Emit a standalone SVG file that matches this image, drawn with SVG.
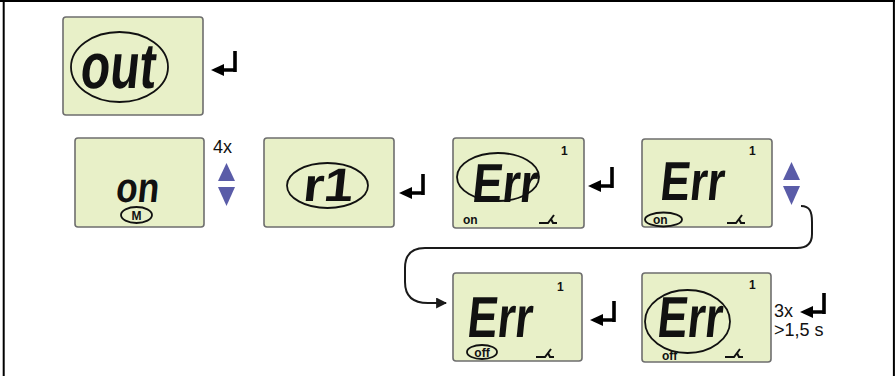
<svg xmlns="http://www.w3.org/2000/svg" xmlns:xlink="http://www.w3.org/1999/xlink" width="895" height="376" viewBox="0 0 895 376">
<style>
.lcd{fill:#e8f0c8;stroke:#6e6e6e;stroke-width:1.6}
.seg{font-family:"Liberation Sans",Arial,sans-serif;font-weight:bold;fill:#111}
.small{font-family:"Liberation Sans",Arial,sans-serif;font-weight:bold;font-size:12px;fill:#111}
.lbl{font-family:"Liberation Sans",Arial,sans-serif;font-size:18px;fill:#111}
.ring{fill:none;stroke:#111;stroke-width:1.8}
.tri{fill:#5a5ca8}
.sw{fill:none;stroke:#111;stroke-width:2}
.conn{fill:none;stroke:#1a1a1a;stroke-width:2}
</style>
<defs>
<g id="enter">
<path d="M0,-19 V2 M1.5,0 H-12" fill="none" stroke="#000" stroke-width="3.6"/>
<path d="M-11,-6 L-11,6 L-24,0 Z" fill="#000"/>
</g>
<path id="swsym" d="M0,7 H9 L15,-1 M12,3 L14,7 H18"/>
<g id="updown">
<path class="tri" d="M0,0 L8.5,-18 L17,0 Z"/>
<path class="tri" d="M0,6 L17,6 L8.5,25 Z"/>
</g>
<marker id="ah" viewBox="0 0 10 10" refX="9" refY="5" markerWidth="5.5" markerHeight="5.5" orient="auto" markerUnits="strokeWidth">
<path d="M0,0 L10,5 L0,10 Z" fill="#1a1a1a"/>
</marker>
</defs>

<rect x="0" y="0" width="895" height="376" fill="#fff"/>
<path d="M3.7,0 V376 M0,0.9 H895 M893.9,0 V376" stroke="#000" stroke-width="2" fill="none"/>

<g id="node-out">
<rect class="lcd" x="63" y="17" width="140" height="98" rx="3"/>
<text class="seg" font-size="64" transform="translate(79,88) skewX(-6)" textLength="75" lengthAdjust="spacingAndGlyphs">out</text>
<ellipse class="ring" cx="119.5" cy="67" rx="48.5" ry="35"/>
</g>
<use xlink:href="#enter" x="235" y="70"/>

<g id="node-on">
<rect class="lcd" x="75" y="138" width="129" height="89" rx="3"/>
<text class="seg" font-size="42" transform="translate(115,202) skewX(-6)" textLength="43" lengthAdjust="spacingAndGlyphs">on</text>
<ellipse class="ring" cx="136.5" cy="215" rx="15.5" ry="8"/>
<text class="small" x="136.5" y="220" text-anchor="middle" font-size="13">M</text>
</g>
<text class="lbl" x="213" y="153">4x</text>
<use xlink:href="#updown" x="218" y="181"/>

<g id="node-r1">
<rect class="lcd" x="264" y="138" width="130" height="89" rx="3"/>
<text class="seg" font-size="47" transform="translate(302,201) skewX(-6)" textLength="50" lengthAdjust="spacingAndGlyphs">r1</text>
<ellipse class="ring" cx="327.5" cy="185.5" rx="40.5" ry="22.5"/>
</g>
<use xlink:href="#enter" x="423" y="193"/>

<g id="node-err1">
<rect class="lcd" x="453" y="138" width="131" height="90" rx="3"/>
<text class="small" x="561" y="155">1</text>
<text class="seg" font-size="55" transform="translate(471,202) skewX(-6)" textLength="65" lengthAdjust="spacingAndGlyphs">Err</text>
<ellipse class="ring" cx="498" cy="177" rx="41" ry="24"/>
<text class="small" x="463" y="224">on</text>
<use xlink:href="#swsym" class="sw" x="539" y="216"/>
</g>
<use xlink:href="#enter" x="612" y="186"/>

<g id="node-err2">
<rect class="lcd" x="642" y="139" width="130" height="88" rx="3"/>
<text class="small" x="749" y="155">1</text>
<text class="seg" font-size="55" transform="translate(659,200) skewX(-6)" textLength="64" lengthAdjust="spacingAndGlyphs">Err</text>
<ellipse class="ring" cx="663.5" cy="219.5" rx="18.5" ry="7"/>
<text class="small" x="653" y="224">on</text>
<use xlink:href="#swsym" class="sw" x="727" y="216"/>
</g>
<use xlink:href="#updown" x="783" y="180"/>

<g id="node-err3">
<rect class="lcd" x="453" y="273" width="129" height="88" rx="3"/>
<text class="small" x="557" y="291">1</text>
<text class="seg" font-size="58" transform="translate(466,337) skewX(-6)" textLength="65" lengthAdjust="spacingAndGlyphs">Err</text>
<ellipse class="ring" cx="482" cy="352" rx="15" ry="7"/>
<text class="small" x="482" y="357" text-anchor="middle">off</text>
<use xlink:href="#swsym" class="sw" x="536" y="350"/>
</g>
<use xlink:href="#enter" x="614" y="320"/>

<g id="node-err4">
<rect class="lcd" x="642" y="273" width="129" height="89" rx="3"/>
<text class="small" x="749" y="289">1</text>
<text class="seg" font-size="58" transform="translate(656,337) skewX(-6)" textLength="65" lengthAdjust="spacingAndGlyphs">Err</text>
<ellipse class="ring" cx="687.5" cy="321.5" rx="42.5" ry="31.5"/>
<text class="small" x="662" y="360">off</text>
<use xlink:href="#swsym" class="sw" x="725" y="350"/>
</g>
<text class="lbl" x="774" y="317">3x</text>
<use xlink:href="#enter" x="824" y="312"/>
<text class="lbl" x="774" y="336">&gt;1,5 s</text>

<g id="connectors">
<path class="conn" marker-end="url(#ah)" d="M801,206 C810,206 812,212 812,222 L812,234 Q812,248 797,248 L425,248 Q405,248 405,268 L405,282 Q405,303 428,303 L446,303"/>
</g>
</svg>
